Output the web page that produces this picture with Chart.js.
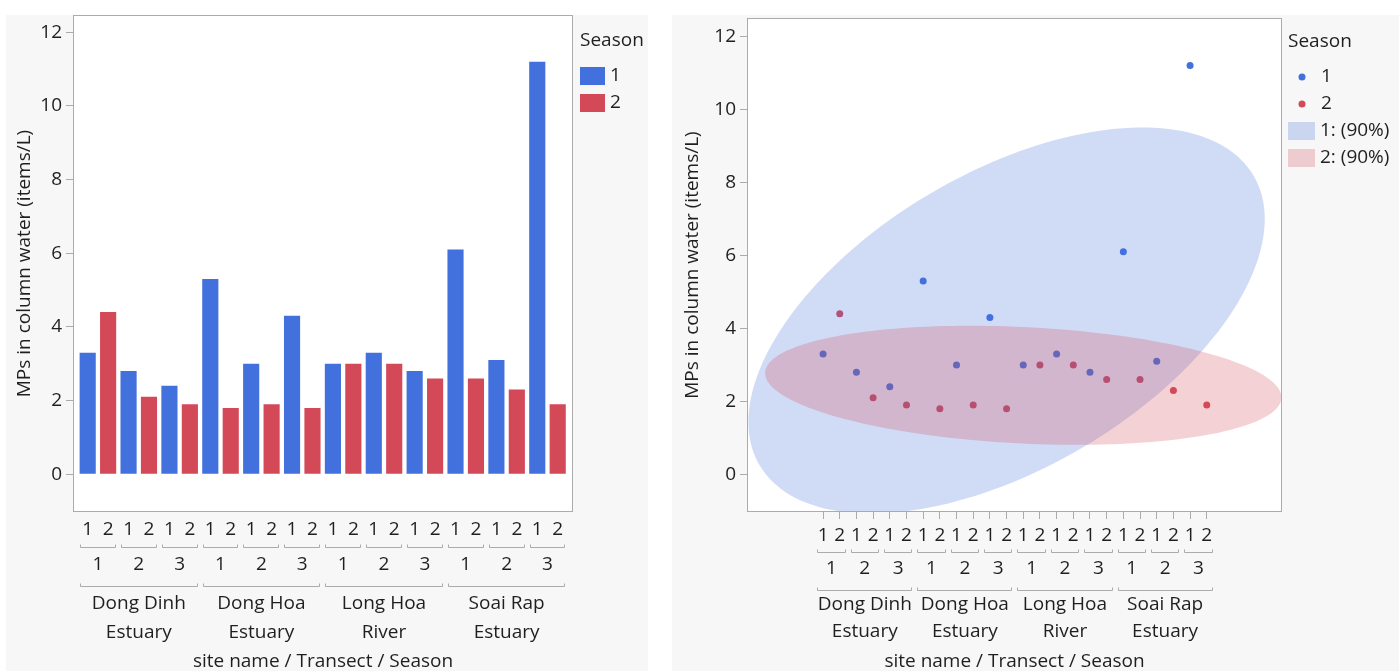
<!DOCTYPE html>
<html lang="en">
<head>
<meta charset="UTF-8">
<title>MPs in column water</title>
<script src="https://cdn.jsdelivr.net/npm/chart.js"></script>
<style>
    body {
        margin: 0;
        background: #fff;
        width: 1399px;
        height: 671px;
        overflow: hidden;
        position: relative;
        font-family: "Open Sans", sans-serif;
    }
    .panel {
        position: absolute;
        top: 15px;
        height: 656px;
        background: #f7f7f7;
    }
    #leftPanel { left: 6px; width: 642px; }
    #rightPanel { left: 672px; width: 727px; }
    canvas { display: block; }
</style>
</head>
<body>
<div class="panel" id="leftPanel"><canvas id="barChart" width="642" height="656"></canvas></div>
<div class="panel" id="rightPanel"><canvas id="dotChart" width="727" height="656"></canvas></div>

<script>
    // data
    const siteNames = [['Dong Dinh', 'Estuary'], ['Dong Hoa', 'Estuary'], ['Long Hoa', 'River'], ['Soai Rap', 'Estuary']];
    const transects = ['1', '2', '3'];
    const seasons = ['1', '2'];
    // one value per site/transect, in site order
    const season1Values = [3.3, 2.8, 2.4, 5.3, 3.0, 4.3, 3.0, 3.3, 2.8, 6.1, 3.1, 11.2];
    const season2Values = [4.4, 2.1, 1.9, 1.8, 1.9, 1.8, 3.0, 3.0, 2.6, 2.6, 2.3, 1.9];
    const yTicks = [0, 2, 4, 6, 8, 10, 12];
    const ellipseLevel = 0.9;

    const blue = 'rgb(66, 112, 221)';
    const red = 'rgb(212, 73, 88)';
    const blueFill = 'rgba(66, 112, 221, 0.25)';
    const redFill = 'rgba(212, 73, 88, 0.25)';
    const textColor = '#1f1f1f';
    const lineGray = '#ababab';
    const fontFamily = '"Open Sans", sans-serif';

    // season label for each of the 24 positions on the x axis
    const seasonLabels = [];
    siteNames.forEach(() => transects.forEach(() => seasons.forEach(s => seasonLabels.push(s))));

    function seasonPoints(values, seasonIndex) {
        return values.map((v, i) => ({ x: i * seasons.length + seasonIndex, y: v }));
    }
    const points1 = seasonPoints(season1Values, 0);
    const points2 = seasonPoints(season2Values, 1);

    Chart.defaults.font.family = fontFamily;
    Chart.defaults.font.size = 19;
    Chart.defaults.color = textColor;

    function frameAndLabels(opts) {
        return {
            id: 'frameAndLabels',
            beforeDraw(chart) {
                const a = chart.chartArea, ctx = chart.ctx;
                ctx.save();
                ctx.fillStyle = '#fff';
                ctx.fillRect(a.left, a.top, a.right - a.left, a.bottom - a.top);
                ctx.restore();
            },
            afterDatasetsDraw(chart) {
                if (opts.ellipses) opts.ellipses(chart);
            },
            afterDraw(chart) {
                const a = chart.chartArea, ctx = chart.ctx, xs = chart.scales.x;
                ctx.save();
                ctx.strokeStyle = lineGray;
                ctx.lineWidth = 1;
                ctx.strokeRect(a.left - 0.5, a.top - 0.5, a.right - a.left + 1, a.bottom - a.top + 1);

                // nested axis labels: transect and site name
                const slot = xs.getPixelForValue(1) - xs.getPixelForValue(0);
                const bracket = (i0, i1, y) => {
                    const l = Math.round(xs.getPixelForValue(i0) - slot / 2 + 2.5) + 0.5;
                    const r = Math.round(xs.getPixelForValue(i1) + slot / 2 - 2.5) - 0.5;
                    ctx.beginPath();
                    ctx.moveTo(l, y - 3);
                    ctx.lineTo(l, y);
                    ctx.lineTo(r, y);
                    ctx.lineTo(r, y - 3);
                    ctx.stroke();
                };
                ctx.fillStyle = textColor;
                ctx.font = '19px ' + fontFamily;
                ctx.textAlign = 'center';
                ctx.textBaseline = 'middle';
                const perSite = transects.length * seasons.length;
                siteNames.forEach((site, s) => {
                    transects.forEach((t, k) => {
                        const i0 = s * perSite + k * seasons.length;
                        const i1 = i0 + seasons.length - 1;
                        bracket(i0, i1, opts.bracket1Y + 0.5);
                        ctx.fillText(t, (xs.getPixelForValue(i0) + xs.getPixelForValue(i1)) / 2, opts.transectY);
                    });
                    const j0 = s * perSite, j1 = j0 + perSite - 1;
                    bracket(j0, j1, opts.bracket2Y + 0.5);
                    const cx = (xs.getPixelForValue(j0) + xs.getPixelForValue(j1)) / 2;
                    site.forEach((line, n) => ctx.fillText(line, cx, opts.siteY[n]));
                });

                // legend
                const L = opts.legend;
                ctx.textAlign = 'left';
                ctx.fillText('Season', L.x, L.titleY);
                L.items.forEach(item => {
                    if (item.kind === 'dot') {
                        ctx.fillStyle = item.color;
                        ctx.beginPath();
                        ctx.arc(L.x + 14, item.y, 3.5, 0, Math.PI * 2);
                        ctx.fill();
                        ctx.fillStyle = textColor;
                        ctx.fillText(item.text, L.x + 33, item.y);
                    } else {
                        ctx.fillStyle = item.color;
                        ctx.fillRect(L.x, item.y - 9, item.w, 18);
                        ctx.fillStyle = textColor;
                        ctx.fillText(item.text, L.x + item.w + 5, item.y);
                    }
                });
                ctx.restore();
            }
        };
    }

    function yAxis(width, titlePad, max) {
        return {
            type: 'linear',
            min: -1.0,
            max: max,
            afterBuildTicks: s => { s.ticks = yTicks.map(v => ({ value: v })); },
            afterFit: s => { s.width = width; s.paddingTop = 0; s.paddingBottom = 0; },
            grid: { drawOnChartArea: false, tickLength: 8, color: lineGray },
            border: { display: false },
            ticks: { padding: 4, color: textColor },
            title: {
                display: true,
                text: 'MPs in column water (items/L)',
                color: textColor,
                font: { size: 19 },
                padding: { top: titlePad, bottom: 0 }
            }
        };
    }

    function xAxis(min, max, showTicks, pad) {
        return {
            type: 'linear',
            offset: false,
            min: min,
            max: max,
            afterBuildTicks: s => { s.ticks = seasonLabels.map((_, i) => ({ value: i })); },
            afterFit: s => { s.height = 160; s.paddingLeft = 0; s.paddingRight = 0; },
            grid: { display: showTicks, offset: false, drawOnChartArea: false, tickLength: showTicks ? 8 : 0, color: lineGray },
            border: { display: false },
            ticks: {
                autoSkip: false,
                maxRotation: 0,
                padding: pad,
                color: textColor,
                callback: v => seasonLabels[v]
            },
            title: {
                display: true,
                text: 'site name / Transect / Season',
                color: textColor,
                font: { size: 19, lineHeight: 1 },
                padding: { top: 0, bottom: 0 }
            }
        };
    }

    // left: bars
    new Chart(document.getElementById('barChart'), {
        type: 'bar',
        data: {
            datasets: [
                { label: '1', data: points1, backgroundColor: blue, grouped: false, barPercentage: 0.79, categoryPercentage: 1 },
                { label: '2', data: points2, backgroundColor: red, grouped: false, barPercentage: 0.79, categoryPercentage: 1 }
            ]
        },
        options: {
            responsive: false,
            animation: false,
            devicePixelRatio: 1,
            layout: { padding: { top: 1, right: 76, bottom: 0, left: 0 } },
            plugins: { legend: { display: false }, tooltip: { enabled: false } },
            scales: {
                x: xAxis(-0.67, 23.7, false, 7),
                y: yAxis(68, 7, 12.44)
            }
        },
        plugins: [frameAndLabels({
            bracket1Y: 532, transectY: 550, bracket2Y: 571, siteY: [589, 618],
            legend: {
                x: 574, titleY: 26,
                items: [
                    { kind: 'box', color: blue, w: 25, y: 61, text: '1' },
                    { kind: 'box', color: red, w: 25, y: 88, text: '2' }
                ]
            }
        })]
    });

    // 90% normal density ellipse from a group's x/y covariance
    function densityEllipse(pts, level) {
        const n = pts.length;
        const mx = pts.reduce((t, p) => t + p.x, 0) / n;
        const my = pts.reduce((t, p) => t + p.y, 0) / n;
        let sxx = 0, syy = 0, sxy = 0;
        pts.forEach(p => {
            sxx += (p.x - mx) ** 2;
            syy += (p.y - my) ** 2;
            sxy += (p.x - mx) * (p.y - my);
        });
        sxx /= n - 1; syy /= n - 1; sxy /= n - 1;
        const r = Math.sqrt(-2 * Math.log(1 - level));
        const tr = sxx + syy, det = sxx * syy - sxy * sxy;
        const d = Math.sqrt(tr * tr / 4 - det);
        const l1 = tr / 2 + d, l2 = tr / 2 - d;
        const ang = 0.5 * Math.atan2(2 * sxy, sxx - syy);
        const a = r * Math.sqrt(l1), b = r * Math.sqrt(l2);
        const out = [];
        for (let k = 0; k <= 180; k++) {
            const t = k / 180 * Math.PI * 2;
            out.push({
                x: mx + a * Math.cos(t) * Math.cos(ang) - b * Math.sin(t) * Math.sin(ang),
                y: my + a * Math.cos(t) * Math.sin(ang) + b * Math.sin(t) * Math.cos(ang)
            });
        }
        return out;
    }

    function drawEllipses(chart) {
        const ctx = chart.ctx, xs = chart.scales.x, ys = chart.scales.y, a = chart.chartArea;
        ctx.save();
        ctx.beginPath();
        ctx.rect(a.left, a.top, a.right - a.left, a.bottom - a.top);
        ctx.clip();
        [[points1, blueFill], [points2, redFill]].forEach(([pts, fill]) => {
            const e = densityEllipse(pts, ellipseLevel);
            ctx.beginPath();
            e.forEach((p, i) => {
                const px = xs.getPixelForValue(p.x), py = ys.getPixelForValue(p.y);
                if (i === 0) ctx.moveTo(px, py); else ctx.lineTo(px, py);
            });
            ctx.closePath();
            ctx.fillStyle = fill;
            ctx.fill();
        });
        ctx.restore();
    }

    // right: points with density ellipses
    new Chart(document.getElementById('dotChart'), {
        type: 'scatter',
        data: {
            datasets: [
                { label: '1', data: points1, backgroundColor: blue, borderWidth: 0, pointRadius: 3.5 },
                { label: '2', data: points2, backgroundColor: red, borderWidth: 0, pointRadius: 3.5 }
            ]
        },
        options: {
            responsive: false,
            animation: false,
            devicePixelRatio: 1,
            layout: { padding: { top: 1, right: 118, bottom: 0, left: 0 } },
            plugins: { legend: { display: false }, tooltip: { enabled: false } },
            scales: {
                x: xAxis(-4.5, 27.45, true, 5),
                y: yAxis(76, 9, 12.47)
            }
        },
        plugins: [frameAndLabels({
            ellipses: drawEllipses,
            bracket1Y: 537, transectY: 554, bracket2Y: 575, siteY: [590, 617],
            legend: {
                x: 616, titleY: 27,
                items: [
                    { kind: 'dot', color: blue, y: 62, text: '1' },
                    { kind: 'dot', color: red, y: 89, text: '2' },
                    { kind: 'box', color: blueFill, w: 27, y: 116, text: '1: (90%)' },
                    { kind: 'box', color: redFill, w: 27, y: 143, text: '2: (90%)' }
                ]
            }
        })]
    });
</script>
</body>
</html>
